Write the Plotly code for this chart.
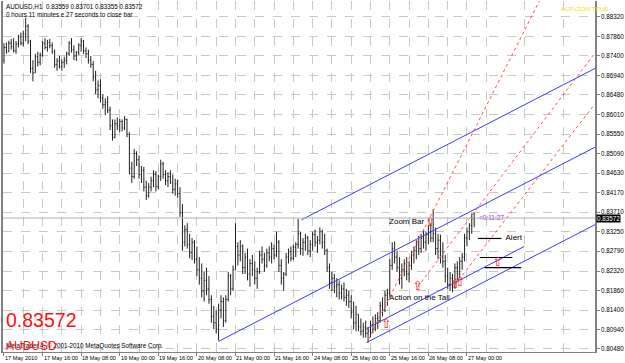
import plotly.graph_objects as go
import numpy as np

# ---------------- data ----------------
symbol = "AUDUSD"
last_price = 0.83572
header_line1 = "AUDUSD,H1  0.83559 0.83701 0.83355 0.83572"
header_line2 = "0 hours 11 minutes e 27 seconds to close bar"

time_labels = ["17 May 2010", "17 May 16:00", "18 May 08:00", "19 May 00:00", "19 May 16:00",
               "20 May 08:00", "21 May 00:00", "21 May 16:00", "24 May 08:00", "25 May 00:00",
               "25 May 16:00", "26 May 08:00", "27 May 00:00"]
time_label_bars = [0, 16, 32, 48, 64, 80, 96, 112, 128, 144, 160, 176, 192]

price_ticks = [0.88320, 0.87860, 0.87400, 0.86940, 0.86480, 0.86010, 0.85550, 0.85090, 0.84630,
               0.84170, 0.83710, 0.83250, 0.82790, 0.82320, 0.81860, 0.81400, 0.80940, 0.80480]

bar_high = [.8770,.8772,.8776,.8780,.8782,.8775,.8790,.8795,.8800,.8830,.8815,.8778,.8730,.8745,.8750,.8748,
            .8775,.8782,.8778,.8780,.8772,.8755,.8735,.8740,.8732,.8738,.8750,.8775,.8782,.8765,.8752,.8770,
            .8782,.8778,.8760,.8755,.8740,.8728,.8705,.8682,.8685,.8650,.8640,.8645,.8620,.8590,.8590,.8595,
            .8592,.8590,.8598,.8592,.8560,.8490,.8520,.8515,.8505,.8480,.8478,.8445,.8440,.8455,.8470,.8468,
            .8460,.8495,.8490,.8470,.8465,.8470,.8460,.8450,.8448,.8430,.8390,.8340,.8345,.8320,.8310,.8305,
            .8290,.8265,.8250,.8230,.8240,.8220,.8175,.8150,.8140,.8155,.8175,.8170,.8175,.8230,.8225,.8245,
            .8345,.8300,.8305,.8295,.8275,.8285,.8260,.8270,.8255,.8240,.8280,.8290,.8275,.8285,.8290,.8300,
            .8295,.8325,.8305,.8260,.8230,.8275,.8285,.8290,.8295,.8300,.8355,.8325,.8310,.8320,.8315,.8305,
            .8325,.8330,.8315,.8335,.8330,.8320,.8285,.8250,.8230,.8225,.8215,.8210,.8200,.8205,.8190,.8185,
            .8175,.8160,.8150,.8130,.8120,.8110,.8115,.8100,.8115,.8125,.8130,.8135,.8160,.8170,.8185,.8190,
            .8260,.8300,.8302,.8280,.8265,.8250,.8260,.8265,.8255,.8280,.8290,.8305,.8315,.8320,.8330,.8325,
            .8340,.8345,.8378,.8335,.8320,.8318,.8300,.8270,.8240,.8230,.8225,.8250,.8255,.8265,.8275,.8320,
            .8335,.8345,.8368,.83701]
bar_low = [.8722,.8745,.8750,.8755,.8748,.8745,.8760,.8765,.8762,.8775,.8768,.8700,.8680,.8700,.8715,.8718,
           .8738,.8755,.8750,.8758,.8745,.8712,.8705,.8710,.8705,.8712,.8720,.8740,.8748,.8730,.8728,.8742,
           .8750,.8745,.8735,.8722,.8712,.8680,.8650,.8640,.8630,.8615,.8600,.8605,.8565,.8540,.8545,.8565,
           .8560,.8562,.8565,.8548,.8460,.8440,.8450,.8480,.8450,.8440,.8420,.8400,.8405,.8420,.8430,.8420,
           .8425,.8445,.8450,.8435,.8430,.8438,.8415,.8410,.8405,.8360,.8280,.8290,.8285,.8262,.8258,.8250,
           .8220,.8200,.8170,.8160,.8175,.8155,.8110,.8095,.8085,.8068,.8120,.8100,.8110,.8160,.8175,.8185,
           .8235,.8245,.8255,.8225,.8225,.8210,.8195,.8220,.8200,.8190,.8225,.8250,.8230,.8240,.8255,.8250,
           .8260,.8265,.8230,.8200,.8185,.8220,.8250,.8255,.8258,.8265,.8285,.8270,.8268,.8280,.8270,.8265,
           .8280,.8290,.8275,.8295,.8285,.8270,.8230,.8190,.8185,.8180,.8170,.8165,.8165,.8160,.8150,.8145,
           .8120,.8095,.8090,.8090,.8080,.8075,.8075,.8063,.8075,.8085,.8090,.8095,.8110,.8125,.8135,.8150,
           .8170,.8235,.8250,.8230,.8200,.8190,.8220,.8210,.8205,.8235,.8250,.8260,.8270,.8275,.8285,.8280,
           .8295,.8300,.8300,.8270,.8260,.8250,.8240,.8205,.8190,.8185,.8182,.8190,.8210,.8215,.8235,.8255,
           .8290,.8305,.8320,.83355]
bar_open = [.8730,.8760,.8750,.8770,.8762,.8752,.8768,.8785,.8770,.8792,.8810,.8775,.8710,.8700,.8738,.8725,
            .8742,.8770,.8760,.8772,.8765,.8750,.8720,.8728,.8715,.8725,.8730,.8745,.8770,.8755,.8740,.8748,
            .8765,.8775,.8752,.8745,.8730,.8720,.8690,.8660,.8670,.8640,.8625,.8630,.8612,.8575,.8548,.8580,
            .8575,.8585,.8570,.8590,.8555,.8475,.8455,.8510,.8495,.8460,.8470,.8430,.8410,.8430,.8445,.8460,
            .8432,.8455,.8485,.8460,.8445,.8455,.8440,.8425,.8438,.8415,.8370,.8300,.8330,.8295,.8275,.8300,
            .8260,.8235,.8215,.8185,.8210,.8190,.8165,.8125,.8110,.8095,.8140,.8160,.8115,.8165,.8220,.8190,
            .8235,.8290,.8270,.8290,.8240,.8265,.8225,.8250,.8235,.8215,.8230,.8270,.8260,.8245,.8275,.8265,
            .8285,.8270,.8300,.8245,.8215,.8225,.8265,.8278,.8262,.8288,.8295,.8320,.8285,.8300,.8310,.8280,
            .8295,.8318,.8300,.8305,.8325,.8300,.8280,.8240,.8205,.8215,.8195,.8200,.8180,.8190,.8170,.8175,
            .8160,.8135,.8110,.8130,.8100,.8090,.8100,.8085,.8090,.8105,.8095,.8120,.8115,.8150,.8140,.8175,
            .8180,.8245,.8285,.8265,.8240,.8215,.8235,.8250,.8225,.8245,.8270,.8280,.8295,.8285,.8310,.8300,
            .8318,.8325,.8310,.8320,.8285,.8305,.8265,.8255,.8220,.8200,.8215,.8195,.8240,.8225,.8255,.8265,
            .8310,.8325,.8340,.83559]
bar_close = [.8760,.8750,.8770,.8762,.8752,.8768,.8785,.8770,.8792,.8810,.8775,.8710,.8700,.8738,.8725,.8742,
             .8770,.8760,.8772,.8765,.8750,.8720,.8728,.8715,.8725,.8730,.8745,.8770,.8755,.8740,.8748,.8765,
             .8775,.8752,.8745,.8730,.8720,.8690,.8660,.8670,.8640,.8625,.8630,.8612,.8575,.8548,.8580,.8575,
             .8585,.8570,.8590,.8555,.8475,.8455,.8510,.8495,.8460,.8470,.8430,.8410,.8430,.8445,.8460,.8432,
             .8455,.8485,.8460,.8445,.8455,.8440,.8425,.8438,.8415,.8370,.8300,.8330,.8295,.8275,.8300,.8260,
             .8235,.8215,.8185,.8210,.8190,.8165,.8125,.8110,.8095,.8140,.8160,.8115,.8165,.8220,.8190,.8235,
             .8290,.8270,.8290,.8240,.8265,.8225,.8250,.8235,.8215,.8230,.8270,.8260,.8245,.8275,.8265,.8285,
             .8270,.8300,.8245,.8215,.8225,.8265,.8278,.8262,.8288,.8295,.8320,.8285,.8300,.8310,.8280,.8295,
             .8318,.8300,.8305,.8325,.8300,.8280,.8240,.8205,.8215,.8195,.8200,.8180,.8190,.8170,.8175,.8160,
             .8135,.8110,.8130,.8100,.8090,.8100,.8085,.8090,.8105,.8095,.8120,.8115,.8150,.8140,.8175,.8180,
             .8245,.8285,.8265,.8240,.8215,.8235,.8250,.8225,.8245,.8270,.8280,.8295,.8285,.8310,.8300,.8318,
             .8325,.8310,.8320,.8285,.8305,.8265,.8255,.8220,.8200,.8215,.8195,.8240,.8225,.8255,.8265,.8310,
             .8325,.8340,.8356,.83572]

# drawing objects: (bar, price) anchor pairs; rays are extended to the chart edge
blue_rays = [((89.0, 0.8066), (200.0, 0.8392)),
             ((123.4, 0.8353), (200.0, 0.8578)),
             ((150.3, 0.8063), (200.0, 0.8209))]
blue_segments = [((150.3, 0.8096), (215.7, 0.8290))]
red_rays = [((151.0, 0.8070), (178.0, 0.8374)),
            ((171.6, 0.8195), (245.1, 0.8747)),
            ((187.1, 0.8200), (245.1, 0.8627))]
black_segments = [((196.5, 0.8309), (206.3, 0.8309)),
                  ((197.3, 0.8264), (210.8, 0.8264)),
                  ((199.3, 0.8240), (214.5, 0.8240))]
arrow_bars = [158.5, 171.6, 176.9, 187.1, 189.1, 204.7]
arrow_prices = [0.8106, 0.8195, 0.8346, 0.8200, 0.8205, 0.8252]
labels_text = ["Zoom Bar", "Action on the Tail", "Alert"]
labels_bar = [159.7, 159.7, 208.0]
labels_price = [0.8349, 0.8169, 0.8309]
timer_text = "<0:11:27"

X_MIN, X_MAX = -0.41, 245.1
Y_MIN, Y_MAX = 0.80409, 0.88697
FONT = "Liberation Sans, Arial, sans-serif"

n = len(bar_close)
idx = list(range(n))

fig = go.Figure()
fig.add_trace(go.Ohlc(x=idx, open=bar_open, high=bar_high, low=bar_low, close=bar_close,
                      increasing=dict(line=dict(color="#202020", width=1)),
                      decreasing=dict(line=dict(color="#202020", width=1)),
                      tickwidth=0.35, hoverinfo="skip"))

def ray(p0, p1):
    (x0, y0), (x1, y1) = p0, p1
    s = (y1 - y0) / (x1 - x0)
    xe = X_MAX
    ye = y0 + s * (xe - x0)
    if ye > Y_MAX:
        xe = x0 + (Y_MAX - y0) / s
        ye = Y_MAX
    return [x0, xe], [y0, ye]

for p0, p1 in blue_rays:
    xs, ys = ray(p0, p1)
    fig.add_trace(go.Scatter(x=xs, y=ys, mode="lines", line=dict(color="#3a3aff", width=1), hoverinfo="skip"))
for p0, p1 in blue_segments:
    fig.add_trace(go.Scatter(x=[p0[0], p1[0]], y=[p0[1], p1[1]], mode="lines",
                             line=dict(color="#3a3aff", width=1), hoverinfo="skip"))
for p0, p1 in red_rays:
    xs, ys = ray(p0, p1)
    fig.add_trace(go.Scatter(x=xs, y=ys, mode="lines", line=dict(color="#ff5050", width=1, dash="dot"),
                             hoverinfo="skip"))
for p0, p1 in black_segments:
    fig.add_trace(go.Scatter(x=[p0[0], p1[0]], y=[p0[1], p1[1]], mode="lines",
                             line=dict(color="black", width=1.2), hoverinfo="skip"))

fig.add_trace(go.Scatter(x=arrow_bars, y=arrow_prices, mode="text", text=["⇧"] * len(arrow_bars),
                         textfont=dict(color="#ff2020", size=13, family="DejaVu Sans"), hoverinfo="skip"))
fig.add_trace(go.Scatter(x=labels_bar, y=labels_price, mode="text", text=labels_text,
                         textposition="middle right", textfont=dict(color="black", size=8, family=FONT),
                         hoverinfo="skip"))
fig.add_trace(go.Scatter(x=[n - 1 + 2.0], y=[last_price], mode="text", text=[timer_text],
                         textposition="middle right", textfont=dict(color="#9933cc", size=6.5, family=FONT),
                         hoverinfo="skip"))

# bid line
fig.add_shape(type="line", xref="paper", x0=0, x1=1, yref="y", y0=last_price, y1=last_price,
              line=dict(color="#b0b0b0", width=1))

ann = []
for lab, b in zip(time_labels, time_label_bars):
    ann.append(dict(x=b, y=0, xref="x", yref="paper", text=lab, showarrow=False, xanchor="left",
                    yanchor="top", xshift=-1, yshift=-1, font=dict(size=5.6, color="black", family=FONT)))
ann.append(dict(x=1, y=last_price, xref="paper", yref="y", text=f"{last_price:.5f}", showarrow=False,
                xanchor="left", yanchor="middle", xshift=1, bgcolor="black", borderpad=0,
                font=dict(size=6.3, color="white", family=FONT)))
ann.append(dict(x=0, y=1, xref="paper", yref="paper", text=header_line1 + "<br>" + header_line2,
                showarrow=False, xanchor="left", yanchor="top", align="left", xshift=1, yshift=0,
                font=dict(size=6.3, color="black", family=FONT)))
ann.append(dict(x=0.94, y=1, xref="paper", yref="paper", text="ACP+ZOM TRUE", showarrow=False,
                xanchor="left", yanchor="top", yshift=-3, font=dict(size=6, color="#e8e800", family=FONT)))
ann.append(dict(x=0, y=0.091, xref="paper", yref="paper", text=f"{last_price:.5f}", showarrow=False,
                xanchor="left", yanchor="middle", xshift=1, font=dict(size=19.5, color="#ff1010", family=FONT)))
ann.append(dict(x=0, y=0, xref="paper", yref="paper", text="MetaTrader 4, © 2001-2010 MetaQuotes Software Corp.",
                showarrow=False, xanchor="left", yanchor="bottom", xshift=1, yshift=0,
                font=dict(size=6.3, color="black", family=FONT)))
ann.append(dict(x=0, y=0, xref="paper", yref="paper", text=symbol, showarrow=False, xanchor="left",
                yanchor="bottom", xshift=1, yshift=-3, font=dict(size=12, color="#ff1010", family=FONT)))

fig.update_layout(
    width=625, height=363, margin=dict(l=1, r=23, t=1, b=11),
    paper_bgcolor="white", plot_bgcolor="white", showlegend=False,
    annotations=ann,
    xaxis=dict(range=[X_MIN, X_MAX], rangeslider=dict(visible=False), tickmode="array",
               tickvals=time_label_bars, showticklabels=False, ticks="outside", ticklen=3,
               tickcolor="#808080", showgrid=True, gridcolor="#c8c8c8", griddash="dash", gridwidth=1,
               minor=dict(tick0=8, dtick=16, showgrid=True, gridcolor="#c8c8c8", griddash="dash"),
               showline=True, linecolor="#808080", linewidth=1, zeroline=False, fixedrange=True),
    yaxis=dict(range=[Y_MIN, Y_MAX], side="right", tickmode="array", tickvals=price_ticks,
               ticktext=[f"{v:.5f}" for v in price_ticks], ticks="outside", ticklen=3, tickcolor="#808080",
               tickfont=dict(size=6.3, color="black", family=FONT), showgrid=True, gridcolor="#c8c8c8",
               griddash="dash", showline=True, linecolor="#808080", linewidth=1.5, mirror=True,
               zeroline=False, fixedrange=True),
)

fig.write_html("out.html")
